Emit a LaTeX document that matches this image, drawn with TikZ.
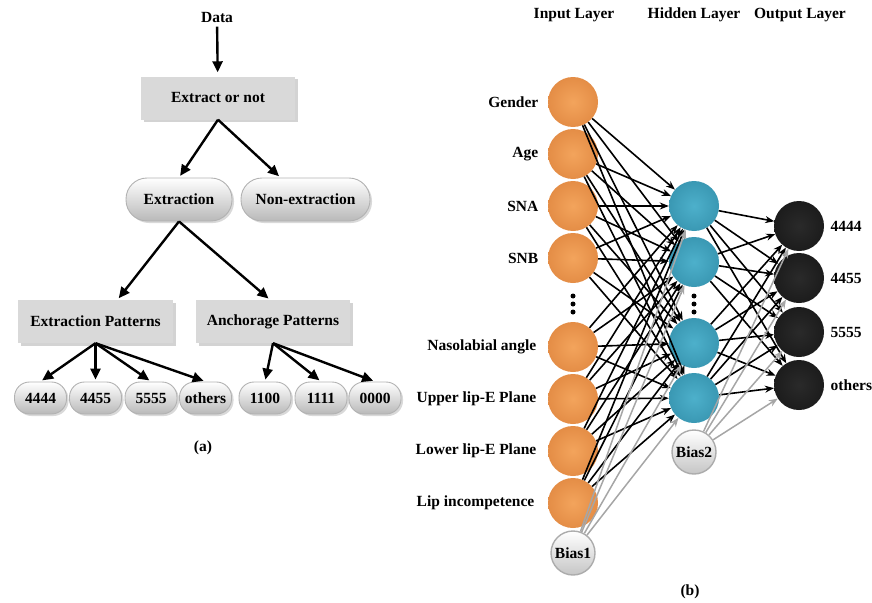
\documentclass[tikz,border=0pt]{standalone}
\usepackage{fontspec}
\setmainfont{Liberation Serif}
\usetikzlibrary{arrows.meta,shadows,calc}
\definecolor{orA}{HTML}{F3A45C}
\definecolor{orB}{HTML}{E48D46}
\definecolor{tlA}{HTML}{4DB0CB}
\definecolor{tlB}{HTML}{3A98B3}
\definecolor{dkA}{HTML}{2A2A2A}
\definecolor{dkB}{HTML}{1C1C1C}
\definecolor{boxgray}{HTML}{D9D9D9}
\begin{document}
\begin{tikzpicture}[x=1pt,y=-1pt,
  every node/.style={font=\fontsize{15.5}{18}\selectfont\bfseries},
  graybox/.style={fill=boxgray, minimum height=43pt, inner sep=0pt,
    drop shadow={shadow xshift=2.5pt,shadow yshift=-2.5pt,opacity=0.35}},
  pillbig/.style={draw=gray!60, line width=0.9pt, rounded corners=21pt,
    minimum height=43pt, inner sep=0pt, top color=white, middle color=white, bottom color=gray!55,
    drop shadow={shadow xshift=2pt,shadow yshift=-2pt,opacity=0.3}},
  leaf/.style={draw=gray!60, line width=0.9pt, rounded corners=15pt,
    minimum height=32pt, minimum width=52pt, inner xsep=2pt, inner ysep=0pt,
    top color=white, middle color=white, bottom color=gray!55,
    drop shadow={shadow xshift=2pt,shadow yshift=-2pt,opacity=0.3}},
  treearrow/.style={line width=2.4pt, -{Triangle[length=11pt,width=10pt]}, shorten >=2pt},
  inp/.style={circle, minimum size=50pt, inner sep=0pt, inner color=orA, outer color=orB},
  hid/.style={circle, minimum size=50pt, inner sep=0pt, inner color=tlA, outer color=tlB},
  outn/.style={circle, minimum size=50pt, inner sep=0pt, inner color=dkA, outer color=dkB},
  bias/.style={circle, minimum size=44pt, inner sep=0pt, draw=gray!65, line width=1.4pt,
    top color=white, middle color=white, bottom color=gray!45},
  netarrow/.style={line width=1.6pt, -{Stealth[length=9pt,width=7pt]}},
  biasarrow/.style={line width=1.5pt, gray!70, -{Stealth[length=9pt,width=7pt]}},
  dotn/.style={circle, fill=black, inner sep=0pt, minimum size=5pt}
]
\useasboundingbox (0,0) rectangle (872,602);

% ---------- (a) decision tree ----------
\node (data) at (217,18) {Data};
\node[graybox, minimum width=154pt] (eon) at (218,98) {Extract or not};
\node[pillbig, minimum width=106pt] (ext) at (179,199.5) {Extraction};
\node[pillbig, minimum width=129pt] (non) at (305.5,199.5) {Non-extraction};
\node[graybox, minimum width=155pt] (ep) at (95.5,321.5) {Extraction Patterns};
\node[graybox, minimum width=154pt] (ap) at (273,321.5) {Anchorage Patterns};

\node[leaf] (l1) at (40.5,398) {4444};
\node[leaf] (l2) at (95.5,398) {4455};
\node[leaf] (l3) at (151,398) {5555};
\node[leaf] (l4) at (205.5,398) {others};
\node[leaf] (l5) at (265,398) {1100};
\node[leaf] (l6) at (321,398) {1111};
\node[leaf] (l7) at (375,398) {0000};

\draw[treearrow, shorten >=4pt] (data) -- (eon);
\draw[treearrow] (eon.south) -- (ext.north);
\draw[treearrow] (eon.south) -- ([xshift=-25pt]non.north);
\draw[treearrow] (ext.south) -- ([xshift=22pt]ep.north);
\draw[treearrow] (ext.south) -- ([xshift=-3pt]ap.north);
\foreach \k in {1,2,3,4} \draw[treearrow] (ep.south) -- (l\k.north);
\foreach \k in {5,6,7} \draw[treearrow] (ap.south) -- (l\k.north);

\node (capa) at (203,448) {(a)};

% ---------- (b) neural network ----------
\node (hin) at (574,15) {Input Layer};
\node (hhid) at (694,15) {Hidden Layer};
\node (hout) at (800,15) {Output Layer};

\node[inp, label={[label distance=6pt]left:Gender}] (i1) at (573,102) {};
\node[inp, label={[label distance=6pt]left:Age}] (i2) at (573,154) {};
\node[inp, label={[label distance=6pt]left:SNA}] (i3) at (573,206) {};
\node[inp, label={[label distance=6pt]left:SNB}] (i4) at (573,258) {};
\node[inp, label={[label distance=8pt]left:Nasolabial angle}] (i5) at (573,347) {};
\node[inp, label={[label distance=8pt]left:Upper lip-E Plane}] (i6) at (573,399) {};
\node[inp, label={[label distance=8pt]left:Lower lip-E Plane}] (i7) at (573,451) {};
\node[inp, label={[label distance=10pt]left:Lip incompetence}] (i8) at (573,503) {};
\node[bias] (b1) at (573,553) {Bias1};

\node[dotn] (d1a) at (573,296) {};
\node[dotn] (d1b) at (573,304) {};
\node[dotn] (d1c) at (573,312) {};

\node[hid] (h1) at (694,206) {};
\node[hid] (h2) at (694,262) {};
\node[hid] (h3) at (694,343) {};
\node[hid] (h4) at (694,398) {};
\node[bias] (b2) at (694,452) {Bias2};

\node[dotn] (d2a) at (694,296) {};
\node[dotn] (d2b) at (694,304) {};
\node[dotn] (d2c) at (694,312) {};

\node[outn, label={[label distance=3pt]right:4444}] (o1) at (799,226) {};
\node[outn, label={[label distance=3pt]right:4455}] (o2) at (799,278) {};
\node[outn, label={[label distance=3pt]right:5555}] (o3) at (799,332) {};
\node[outn, label={[label distance=3pt]right:others}] (o4) at (799,385) {};

\foreach \i in {1,...,8} \foreach \j in {1,...,4} \draw[netarrow] (i\i) -- (h\j);
\foreach \j in {1,...,4} \draw[biasarrow] (b1) -- (h\j);
\foreach \i in {1,...,4} \foreach \j in {1,...,4} \draw[netarrow] (h\i) -- (o\j);
\foreach \j in {1,...,4} \draw[biasarrow] (b2) -- (o\j);

\node (capb) at (690,592) {(b)};
\end{tikzpicture}
\end{document}
